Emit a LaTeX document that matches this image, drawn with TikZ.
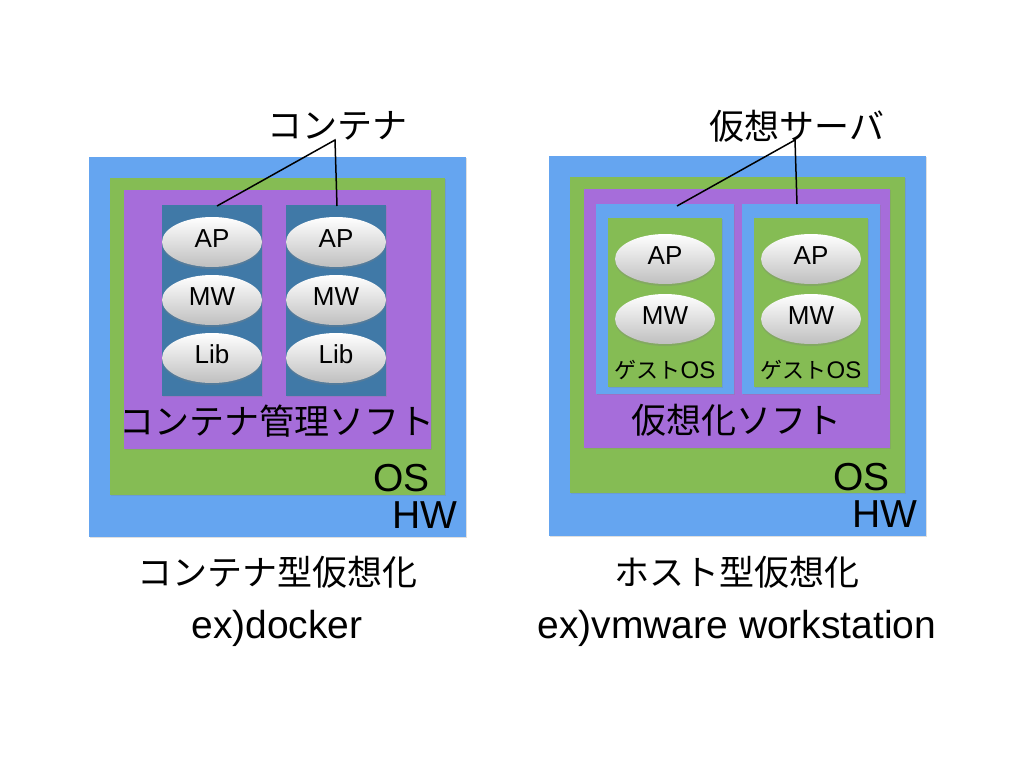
\documentclass[tikz,border=0pt]{standalone}
\usepackage{fontspec}
\setmainfont{Noto Sans CJK JP}
\newfontfamily\lat{Liberation Sans}
\usetikzlibrary{shapes.geometric,shadows}
\definecolor{hwc}{HTML}{65A5F0}
\definecolor{osc}{HTML}{85BC54}
\definecolor{vc}{HTML}{A66DDA}
\definecolor{ctc}{HTML}{4079A7}
\tikzset{
  layer/.style={rectangle, inner sep=0pt, draw=none,
    drop shadow={opacity=0.25, shadow xshift=1pt, shadow yshift=-1pt}},
  ell/.style={ellipse, inner sep=0pt, minimum width=100pt, minimum height=50pt,
    top color=white, bottom color=gray!50, draw=none,
    drop shadow={opacity=0.3, shadow xshift=0pt, shadow yshift=-2pt},
    font=\lat\fontsize{26}{30}\selectfont},
  big/.style={inner sep=0pt, font=\fontsize{35}{40}\selectfont},
  bigl/.style={inner sep=0pt, font=\lat\fontsize{39}{44}\selectfont},
  guest/.style={inner sep=0pt, font=\fontsize{22}{26}\selectfont},
  conn/.style={line width=1.5pt, black}
}
\newcommand\lbl[1]{\raisebox{7pt}{#1}}
\begin{document}
\begin{tikzpicture}[x=1pt,y=-1pt]
\useasboundingbox[fill=white] (0,0) rectangle (1024,768);
% ---------- left: container ----------
\node[layer, fill=hwc, minimum width=377pt, minimum height=380pt] (hwL) at (277.5,347) {};
\node[layer, fill=osc, minimum width=335pt, minimum height=317pt] (osL) at (277.5,336.5) {};
\node[layer, fill=vc, minimum width=307pt, minimum height=259pt] (vL) at (277.5,319.5) {};
\node[layer, fill=ctc, minimum width=100pt, minimum height=191pt] (c1) at (212,300.5) {};
\node[layer, fill=ctc, minimum width=100pt, minimum height=191pt] (c2) at (336,300.5) {};
\node[ell] (apL1) at (212,242) {\lbl{AP}};
\node[ell] (mwL1) at (212,300) {\lbl{MW}};
\node[ell] (libL1) at (212,358) {\lbl{Lib}};
\node[ell] (apL2) at (336,242) {\lbl{AP}};
\node[ell] (mwL2) at (336,300) {\lbl{MW}};
\node[ell] (libL2) at (336,358) {\lbl{Lib}};
\node[big] (mgr) at (277,421) {コンテナ管理ソフト};
\node[bigl, anchor=east] (osLt) at (430,478) {OS};
\node[bigl, anchor=east] (hwLt) at (458,515) {HW};
\node[big] (ctitle) at (337,126) {コンテナ};
\coordinate (ctip) at (335,140);
\coordinate (c1top) at (217,206);
\coordinate (c2top) at (337,206);
\draw[conn] (c1top) -- (ctip) -- (c2top);
\node[big] (capL1) at (277,572) {コンテナ型仮想化};
\node[bigl] (capL2) at (277,628) {ex)docker};
% ---------- right: host ----------
\node[layer, fill=hwc, minimum width=377pt, minimum height=380pt] (hwR) at (737.5,346) {};
\node[layer, fill=osc, minimum width=335pt, minimum height=316pt] (osR) at (737.5,335) {};
\node[layer, fill=vc, minimum width=306pt, minimum height=259pt] (vR) at (737,318.5) {};
\node[layer, fill=hwc, minimum width=138pt, minimum height=190pt] (vm1) at (665,299) {};
\node[layer, fill=hwc, minimum width=138pt, minimum height=190pt] (vm2) at (811,299) {};
\node[layer, fill=osc, minimum width=114pt, minimum height=169pt] (g1) at (665,302.5) {};
\node[layer, fill=osc, minimum width=114pt, minimum height=169pt] (g2) at (811,302.5) {};
\node[ell] (apR1) at (665,259) {\lbl{AP}};
\node[ell] (mwR1) at (665,319) {\lbl{MW}};
\node[ell] (apR2) at (811,259) {\lbl{AP}};
\node[ell] (mwR2) at (811,319) {\lbl{MW}};
\node[guest] (gos1) at (665,370) {ゲスト{\lat\fontsize{24}{28}\selectfont OS}};
\node[guest] (gos2) at (811,370) {ゲスト{\lat\fontsize{24}{28}\selectfont OS}};
\node[big] (vsoft) at (736,420) {仮想化ソフト};
\node[bigl, anchor=east] (osRt) at (890,477) {OS};
\node[bigl, anchor=east] (hwRt) at (918,514) {HW};
\node[big] (vtitle) at (797,126) {仮想サーバ};
\coordinate (vtip) at (795,140);
\coordinate (vm1top) at (677,206);
\coordinate (vm2top) at (797,204);
\draw[conn] (vm1top) -- (vtip) -- (vm2top);
\node[big] (capR1) at (737,572) {ホスト型仮想化};
\node[bigl] (capR2) at (737,628) {ex)vmware workstation};
\end{tikzpicture}
\end{document}
